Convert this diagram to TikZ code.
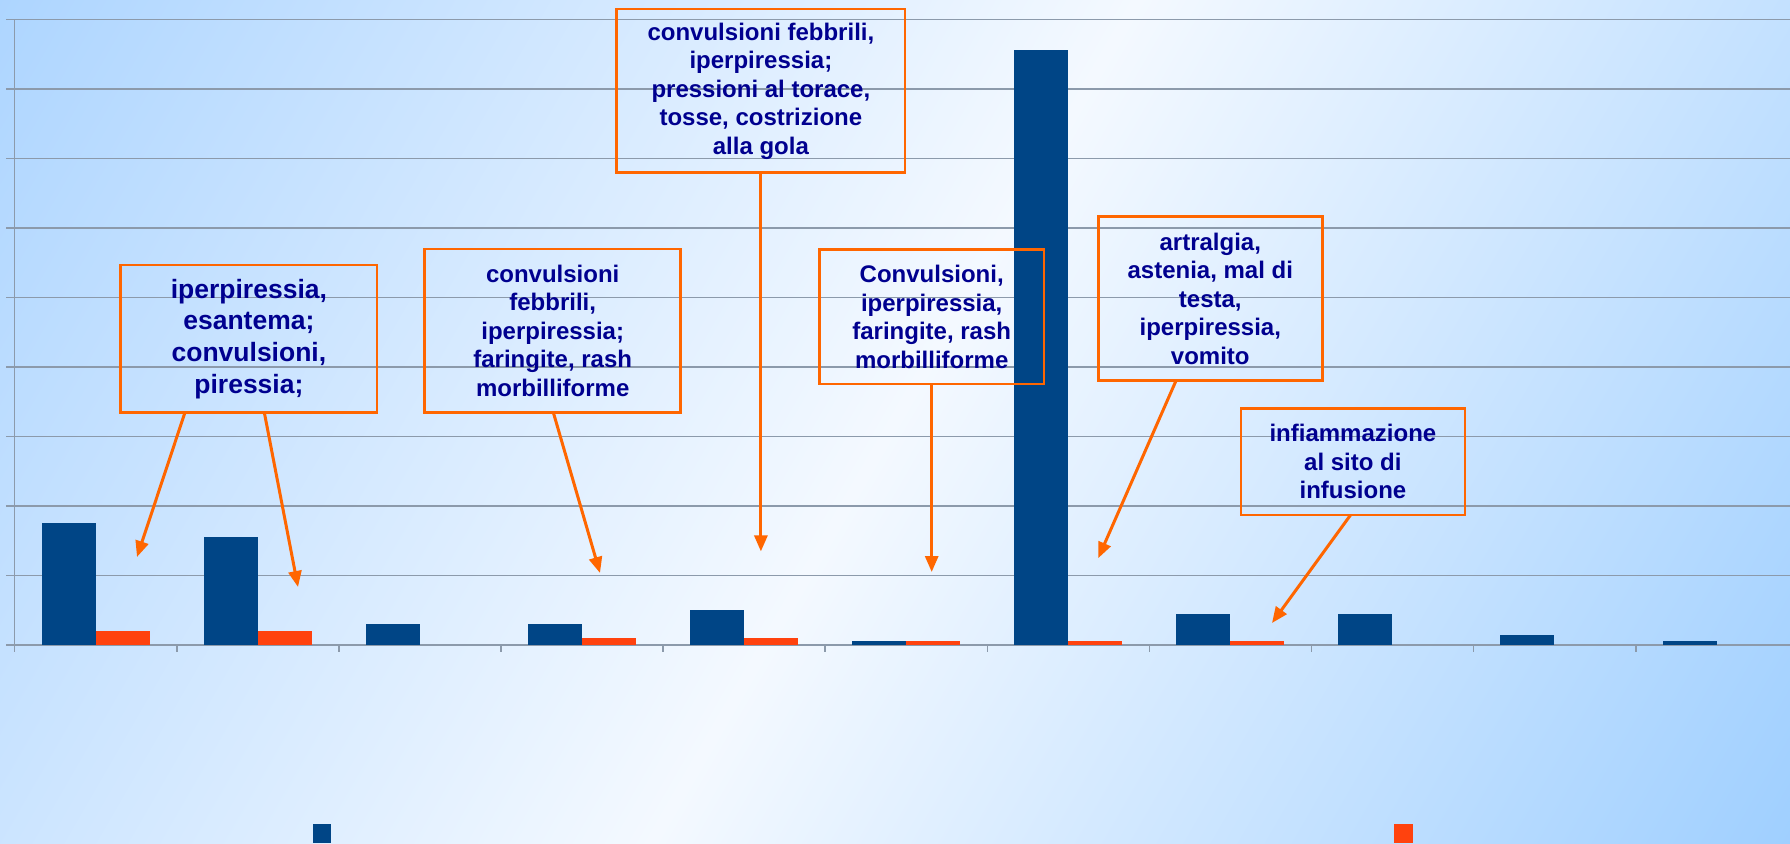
\documentclass[tikz,border=0pt]{standalone}
\usepackage{fontspec}
\setmainfont{Liberation Sans}
\usetikzlibrary{arrows.meta,calc}
\definecolor{bgA}{HTML}{ADD5FF}
\definecolor{bgB}{HTML}{9FCFFF}
\definecolor{bgM}{HTML}{F4F9FF}
\definecolor{gridc}{HTML}{8C9AAB}
\definecolor{barblue}{HTML}{004586}
\definecolor{barorange}{HTML}{FF420E}
\definecolor{callout}{HTML}{FF6600}
\definecolor{navytext}{HTML}{00008F}
\tikzset{
  box/.style={draw=callout, line width=1.3pt, inner sep=0pt, outer sep=0pt,
    align=center, text=navytext, font=\bfseries\fontsize{12}{14.25}\selectfont},
  bigbox/.style={box, font=\bfseries\fontsize{13.25}{15.85}\selectfont},
  arr/.style={draw=callout, line width=1.5pt, -{Triangle[length=8pt,width=6.5pt]}},
  gridline/.style={draw=gridc, line width=0.8pt},
}
\begin{document}
\begin{tikzpicture}[x=0.5pt,y=-0.5pt]
\useasboundingbox (0,0) rectangle (1790,843);
% background gradient
\begin{scope}
  \clip (0,0) rectangle (1790,843);
  \begin{scope}[transform canvas={rotate around={-30:(895,421.5)}}]
    \shade[overlay, left color=bgA, right color=bgB, middle color=bgM]
      (-95,-478.5) rectangle (1885,1321.5);
  \end{scope}
\end{scope}
% grid
\foreach \k in {0,...,9} {
  \draw[gridline] (6,{19.4+69.51*\k}) -- (1790,{19.4+69.51*\k});
}
\draw[gridline] (14.5,19.4) -- (14.5,652);
\foreach \i in {1,...,10} {
  \draw[gridline] ({14.7+162.1*\i},645) -- ({14.7+162.1*\i},652);
}
% bars
\foreach \i/\b in {0/523.3,1/537.3,2/624.3,3/624.3,4/610.3,5/641.3,6/50.2,7/614,8/614,9/634.7,10/641.3} {
  \fill[barblue] ({14.7+162.1*\i+26.8},645) rectangle ({14.7+162.1*\i+80.8},\b);
}
\foreach \i/\o in {0/631.3,1/631.3,3/638.3,4/638,5/641.3,6/641.3,7/641.3} {
  \fill[barorange] ({14.7+162.1*\i+80.8},645) rectangle ({14.7+162.1*\i+134.8},\o);
}
% legend keys
\fill[barblue] (312.5,824) rectangle (331,843);
\fill[barorange] (1394,824) rectangle (1413,843);
% callouts
\node[bigbox, minimum width=128.15pt, minimum height=73.65pt] (b1) at (248.9,338.7)
  {iperpiressia,\\esantema;\\convulsioni,\\piressia;};
\node[box, minimum width=128pt, minimum height=81.65pt] (b2) at (552.7,330.7)
  {convulsioni\\febbrili,\\iperpiressia;\\faringite, rash\\morbilliforme};
\node[box, minimum width=144.15pt, minimum height=81.85pt] (b3) at (760.9,90.9)
  {convulsioni febbrili,\\iperpiressia;\\pressioni al torace,\\tosse, costrizione\\alla gola};
\node[box, minimum width=112.35pt, minimum height=67.35pt] (b4) at (931.7,316.7)
  {Convulsioni,\\iperpiressia,\\faringite, rash\\morbilliforme};
\node[box, minimum width=112pt, minimum height=82pt] (b5) at (1210.3,298.7)
  {artralgia,\\astenia, mal di\\testa,\\iperpiressia,\\vomito};
\node[box, minimum width=112.1pt, minimum height=53.15pt] (b6) at (1352.9,461.9)
  {infiammazione\\al sito di\\infusione};
% arrow targets
\coordinate (t1) at (137,557);
\coordinate (t2) at (298,587);
\coordinate (t3) at (600,573);
\coordinate (t4) at (760.9,551.4);
\coordinate (t5) at (931.7,572);
\coordinate (t6) at (1098.2,558.2);
\coordinate (t7) at (1272,623);
\draw[arr] ([xshift=-31.95pt]b1.south) -- (t1);
\draw[arr] ([xshift=7.7pt]b1.south) -- (t2);
\draw[arr] ([xshift=0.3pt]b2.south) -- (t3);
\draw[arr] (b3.south) -- (t4);
\draw[arr] (b4.south) -- (t5);
\draw[arr] ([xshift=-17.15pt]b5.south) -- (t6);
\draw[arr] ([xshift=-1.2pt]b6.south) -- (t7);
\end{tikzpicture}
\end{document}
